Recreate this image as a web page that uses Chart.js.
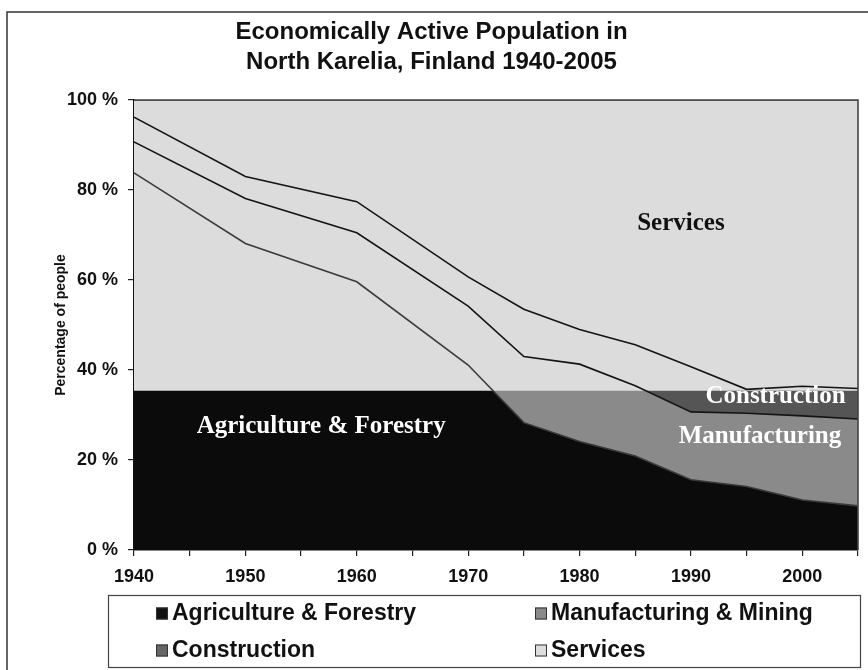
<!DOCTYPE html>
<html>
<head>
<meta charset="utf-8">
<script src="https://cdn.jsdelivr.net/npm/chart.js@4.4.1/dist/chart.umd.min.js"></script>
<style>
  html, body { margin: 0; padding: 0; background: #fff; }
  #wrap { position: relative; width: 868px; height: 670px; }
</style>
</head>
<body>
<div id="wrap"><canvas id="grafico" width="868" height="670"></canvas></div>
<script>
// datos (porcentaje por sector)
const years = [1940, 1950, 1960, 1970, 1975, 1980, 1985, 1990, 1995, 2000, 2005];
const agriculture = [83.8, 68.1, 59.6, 41.1, 28.3, 24.1, 20.9, 15.6, 14.1, 11.1, 9.8];
const manufacturing = [6.9, 10.0, 10.9, 13.1, 14.7, 17.2, 15.6, 15.1, 16.3, 18.7, 19.3];
const construction = [5.5, 4.9, 6.9, 6.5, 10.5, 7.7, 9.1, 10.0, 5.3, 6.6, 6.8];
const services = [3.8, 17.0, 22.6, 39.3, 46.5, 51.0, 54.4, 59.3, 64.3, 63.6, 64.1];
const yTicks = [0, 20, 40, 60, 80, 100];
const xTickLabels = [1940, 1950, 1960, 1970, 1980, 1990, 2000];
const sectorNames = ['Agriculture & Forestry', 'Manufacturing & Mining', 'Construction', 'Services'];
const clipLevel = 35.4; // por debajo de este nivel se ven los colores de cada sector

const areaLabels = [
  { text: 'Services', x: 1989.1, y: 71.1, color: '#111' },
  { text: 'Agriculture & Forestry', x: 1956.8, y: 26.1, color: '#fff' },
  { text: 'Construction', x: 1997.6, y: 32.7, color: '#fff' },
  { text: 'Manufacturing', x: 1996.2, y: 23.8, color: '#fff' }
];

const fills = ['#0b0b0b', '#8a8a8a', '#555555', '#dcdcdc'];
const lines = ['#3a3a3a', '#141414', '#141414', '#444444'];
const legendFills = ['#111111', '#8a8a8a', '#666666', '#dddddd'];

const series = [agriculture, manufacturing, construction, services];
const datasets = series.map((vals, i) => ({
  label: sectorNames[i],
  data: years.map((y, j) => ({ x: y, y: vals[j] })),
  backgroundColor: fills[i],
  borderColor: lines[i],
  borderWidth: 1.6,
  pointRadius: 0,
  tension: 0,
  fill: i === 0 ? 'origin' : '-1'
}));

function clipBelow(chart) {
  const { ctx, chartArea, scales } = chart;
  const yCut = scales.y.getPixelForValue(clipLevel);
  ctx.save();
  ctx.beginPath();
  ctx.rect(chartArea.left, yCut, chartArea.right - chartArea.left, chartArea.bottom - yCut);
  ctx.clip();
}

// los rellenos solo se ven por debajo de clipLevel, las lineas se dibujan completas
const sectorClip = {
  id: 'sectorClip',
  beforeDatasetsDraw(chart) {
    const { ctx, chartArea } = chart;
    ctx.save();
    ctx.fillStyle = fills[3];
    ctx.fillRect(chartArea.left, chartArea.top, chartArea.right - chartArea.left, chartArea.bottom - chartArea.top);
    ctx.restore();
    clipBelow(chart);
  },
  beforeDatasetDraw(chart) { chart.ctx.restore(); },
  afterDatasetDraw(chart) { clipBelow(chart); },
  afterDatasetsDraw(chart) {
    const { ctx, chartArea, scales } = chart;
    ctx.restore();

    // marco del area de trazado
    ctx.save();
    ctx.strokeStyle = '#444';
    ctx.lineWidth = 1.6;
    ctx.beginPath();
    ctx.moveTo(chartArea.left, chartArea.top);
    ctx.lineTo(chartArea.right, chartArea.top);
    ctx.lineTo(chartArea.right, chartArea.bottom);
    ctx.stroke();

    // etiquetas dentro de las areas
    ctx.font = 'bold 25px "Liberation Serif", serif';
    ctx.textAlign = 'center';
    ctx.textBaseline = 'alphabetic';
    areaLabels.forEach(l => {
      ctx.fillStyle = l.color;
      ctx.fillText(l.text, scales.x.getPixelForValue(l.x), scales.y.getPixelForValue(l.y));
    });
    ctx.restore();
  },
  afterDraw(chart) {
    const ctx = chart.ctx;
    ctx.save();
    // marco exterior
    ctx.strokeStyle = '#333';
    ctx.lineWidth = 1.5;
    ctx.beginPath();
    ctx.moveTo(7, 680);
    ctx.lineTo(7, 12);
    ctx.lineTo(880, 12);
    ctx.stroke();

    // leyenda en dos columnas
    ctx.lineWidth = 1.2;
    ctx.strokeStyle = '#444';
    ctx.strokeRect(108.5, 595.5, 752, 72);
    const colX = [156, 535];
    const rowY = [613, 650];
    ctx.font = 'bold 23px "Liberation Sans", Arial, sans-serif';
    ctx.textBaseline = 'middle';
    ctx.textAlign = 'left';
    sectorNames.forEach((name, i) => {
      const x = colX[i % 2], y = rowY[Math.floor(i / 2)];
      ctx.fillStyle = legendFills[i];
      ctx.fillRect(x, y - 5.5, 12, 12);
      ctx.strokeStyle = '#333';
      ctx.lineWidth = 1;
      ctx.strokeRect(x + 0.5, y - 5, 11, 11);
      ctx.fillStyle = '#111';
      ctx.fillText(name, x + 16, y + 1);
    });
    ctx.restore();
  }
};

new Chart(document.getElementById('grafico'), {
  type: 'line',
  data: { datasets },
  options: {
    responsive: false,
    animation: false,
    devicePixelRatio: 1,
    layout: { padding: { left: 0, right: 5, top: 0, bottom: 80 } },
    plugins: {
      legend: { display: false },
      tooltip: { enabled: false },
      title: {
        display: true,
        text: ['Economically Active Population in', 'North Karelia, Finland 1940-2005'],
        color: '#111',
        font: { family: '"Liberation Sans", Arial, sans-serif', size: 24, weight: 'bold', lineHeight: 30 / 24 },
        padding: { top: 17, bottom: 23 }
      }
    },
    scales: {
      x: {
        type: 'linear',
        min: years[0],
        max: years[years.length - 1],
        z: 1,
        afterFit: s => { s.height = 40; },
        grid: { drawOnChartArea: false, drawTicks: true, tickLength: 6, color: '#222', lineWidth: 1.2 },
        border: { display: true, color: '#111', width: 1.6 },
        ticks: {
          stepSize: 5,
          autoSkip: false,
          maxRotation: 0,
          padding: 10,
          color: '#111',
          font: { family: '"Liberation Sans", Arial, sans-serif', size: 18, weight: 'bold' },
          callback: v => xTickLabels.includes(v) ? String(v) : ''
        }
      },
      y: {
        stacked: true,
        min: yTicks[0],
        max: yTicks[yTicks.length - 1],
        z: 1,
        afterFit: s => { s.width = 134; },
        afterBuildTicks: s => { s.ticks = yTicks.map(v => ({ value: v })); },
        grid: { drawOnChartArea: false, drawTicks: true, tickLength: 6, color: '#222', lineWidth: 1.2 },
        border: { display: true, color: '#111', width: 1.6 },
        title: {
          display: true,
          text: 'Percentage of people',
          color: '#111',
          font: { family: '"Liberation Sans", Arial, sans-serif', size: 14, weight: 'bold' },
          padding: { top: 53, bottom: 0 }
        },
        ticks: {
          padding: 10,
          color: '#111',
          font: { family: '"Liberation Sans", Arial, sans-serif', size: 18, weight: 'bold' },
          callback: v => v + ' %'
        }
      }
    }
  },
  plugins: [sectorClip]
});
</script>
</body>
</html>
